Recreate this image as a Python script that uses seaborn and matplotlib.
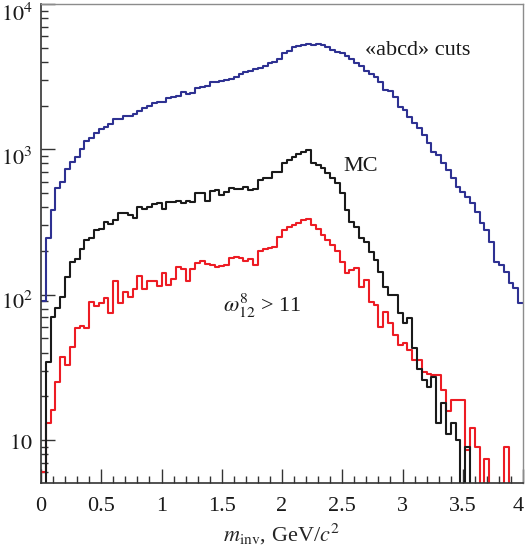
import numpy as np
import pandas as pd
import matplotlib
matplotlib.use("Agg")
import matplotlib.pyplot as plt
import matplotlib.transforms as mtransforms
import seaborn as sns
from matplotlib.ticker import FixedLocator, FixedFormatter, LogLocator, MultipleLocator, NullFormatter, FuncFormatter

# ---------------- data (100 bins, 0..4 GeV/c^2) ----------------
bin_range = (0.0, 4.0)
n_bins = 100

abcd_cuts = [90, 245, 383, 542, 598, 733, 818, 886, 1004, 1140,
             1190, 1300, 1373, 1431, 1486, 1608, 1608, 1695, 1695, 1741,
             1845, 1936, 1986, 2074, 2118, 2118, 2266, 2302, 2339, 2466,
             2389, 2455, 2656, 2699, 2742, 2893, 2893, 2939, 2999, 3047,
             3146, 3314, 3403, 3475, 3571, 3646, 3727, 3946, 3990, 4207,
             4581, 4775, 5036, 5163, 5248, 5280, 5221, 5307, 5200, 5036,
             4822, 4700, 4600, 4420, 4200, 3950, 3740, 3480, 3300, 3134,
             2918, 2557, 2530, 2302, 1964, 1865, 1678, 1525, 1397, 1257,
             1099, 963, 915, 809, 721, 630, 553, 511, 472, 425,
             373, 310, 279, 231, 169, 160, 144, 120, 111, 87]

mc = [0, 34.6, 70.5, 80.5, 96.8, 133, 169, 175, 205, 238,
      247, 279, 285, 318, 305, 327, 363, 366, 353, 335,
      403, 387, 403, 421, 425, 387, 432, 432, 443, 430,
      441, 432, 498, 503, 441, 519, 525, 485, 506, 539,
      531, 531, 553, 525, 531, 615, 631, 631, 695, 695,
      801, 845, 890, 924, 963, 989, 801, 780, 740, 684,
      631, 584, 500, 380, 318, 294, 244, 231, 198, 173,
      144, 113, 99.5, 99.5, 74.5, 63.6, 68.8, 42.7, 31, 26,
      23, 27, 13, 18, 11, 13, 10, 0, 9, 0,
      0, 0, 0, 0, 0, 0, 0, 0, 0, 0]

omega_cut = [6.05, 13.0, 16.1, 25, 37.4, 32.8, 43.9, 58.6, 60.8, 58.6,
             89.5, 83.6, 87.2, 94.5, 75.2, 125, 87.2, 105, 96.8, 109,
             134, 109, 125, 125, 115, 142, 117, 128, 154, 150,
             125, 150, 165, 170, 162, 160, 156, 157, 160, 178,
             181, 180, 171, 175, 160, 200, 207, 208, 212, 248,
             279, 294, 302, 310, 327, 330, 302, 281, 257, 238,
             220, 200, 169, 140, 148, 152, 113, 126, 89.5, 85,
             60, 76, 63.6, 52.7, 45, 46.3, 41.6, 35.5, 35.5, 29.3,
             28.6, 27.8, 27.8, 22.2, 15.9, 18.8, 18.8, 18.8, 8.5, 12.0,
             9.0, 0, 7.4, 0, 0, 0, 9.0, 0, 0, 0]

series_names = ["abcd", "MC", "omega"]
series_colors = {"abcd": "#2e3192", "MC": "#1a1a1a", "omega": "#ed1c24"}
series_labels = ["«abcd» cuts", "MC", r"$\omega^{8}_{12}$ > 11"]

y_tick_values = [10, 100, 1000, 10000]
y_tick_labels = [r"$10$", r"$10^2$", r"$10^3$", r"$10^4$"]

# ---------------- build table ----------------
edges = np.linspace(bin_range[0], bin_range[1], n_bins + 1)
centers = 0.5 * (edges[:-1] + edges[1:])
frames = []
for name, vals in zip(series_names, [abcd_cuts, mc, omega_cut]):
    frames.append(pd.DataFrame({"m": centers, "count": vals, "series": name}))
df = pd.concat(frames, ignore_index=True)

# ---------------- style ----------------
sns.set_style("ticks")
plt.rcParams["font.family"] = ["Liberation Serif", "DejaVu Serif"]
plt.rcParams["mathtext.fontset"] = "stix"

fig = plt.figure(figsize=(5.25, 5.48), dpi=100)
ax = fig.add_axes([41 / 525, 65 / 548, 482 / 525, 479 / 548])

sns.histplot(data=df, x="m", weights="count", hue="series", hue_order=series_names,
             bins=n_bins, binrange=bin_range, element="step", fill=False,
             palette=series_colors, linewidth=1.5, legend=False, ax=ax)

ax.set_yscale("log")
ax.set_xlim(0, 4)
ax.set_ylim(5.06, 1e4)

# ticks
ax.yaxis.set_major_locator(FixedLocator(y_tick_values))
ax.yaxis.set_major_formatter(FixedFormatter(y_tick_labels))
ax.yaxis.set_minor_locator(LogLocator(base=10, subs=np.arange(2, 10)))
ax.yaxis.set_minor_formatter(NullFormatter())
ax.xaxis.set_major_locator(MultipleLocator(0.5))
ax.xaxis.set_minor_locator(MultipleLocator(0.1))
ax.xaxis.set_major_formatter(FuncFormatter(lambda v, p: f"{v:g}"))

ax.tick_params(axis="both", which="major", direction="in", length=10, width=1.0,
               color="#333333", labelsize=16, labelcolor="#1a1a1a")
ax.tick_params(axis="both", which="minor", direction="in", length=5, width=1.0,
               color="#333333")
ax.tick_params(axis="x", which="major", pad=10)
ax.tick_params(axis="y", which="major", pad=6)

for side in ["left", "bottom"]:
    ax.spines[side].set_color("#333333")
    ax.spines[side].set_linewidth(1.2)
for side in ["top", "right"]:
    ax.spines[side].set_color("#8c8c8c")
    ax.spines[side].set_linewidth(1.0)

ax.set_xlabel(r"$m_{\rm inv}$, GeV/$c^2$", fontsize=16, labelpad=4)
ax.set_ylabel("")

# shift y tick labels slightly downward (superscripted ones more)
y_shifts_px = [2, 6, 7, 8]
for tick, dy in zip(ax.yaxis.get_major_ticks(len(y_tick_values)), y_shifts_px):
    off = mtransforms.ScaledTranslation(0, -dy / 100, fig.dpi_scale_trans)
    tick.label1.set_transform(tick.label1.get_transform() + off)

# keep the last x tick label inside the figure
x_ticks = ax.xaxis.get_major_ticks()
fig.canvas.draw()
for tick in ax.xaxis.get_major_ticks():
    if abs(tick.get_loc() - 4.0) < 1e-9:
        off = mtransforms.ScaledTranslation(-5 / 100, 0, fig.dpi_scale_trans)
        tick.label1.set_transform(tick.label1.get_transform() + off)

# annotations
ax.text(2.69, 4800, series_labels[0], fontsize=16, ha="left", va="center", color="#1a1a1a")
ax.text(2.51, 767, series_labels[1], fontsize=16, ha="left", va="center", color="#1a1a1a")
ax.text(1.51, 84, series_labels[2], fontsize=16, ha="left", va="center", color="#1a1a1a")

fig.savefig("out.png", dpi=100)
